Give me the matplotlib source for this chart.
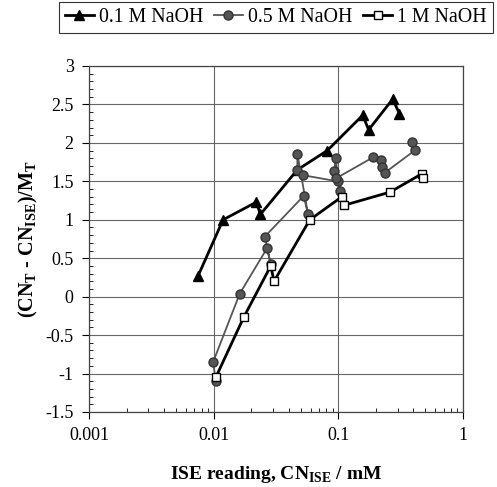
import numpy as np
import matplotlib
matplotlib.use('Agg')
import matplotlib.pyplot as plt
from matplotlib.ticker import MultipleLocator, LogLocator, NullFormatter

plt.rcParams['font.family'] = ['Liberation Serif', 'DejaVu Serif']
plt.rcParams['mathtext.fontset'] = 'custom'
plt.rcParams['mathtext.rm'] = 'Liberation Serif'
plt.rcParams['mathtext.bf'] = 'Liberation Serif:bold'

# 0.1 M NaOH
x_01 = [0.0075, 0.0119, 0.022, 0.0237, 0.0469, 0.0815, 0.157, 0.175, 0.273, 0.309]
y_01 = [0.27, 1.0, 1.23, 1.07, 1.65, 1.9, 2.36, 2.17, 2.57, 2.38]

# 0.5 M NaOH
x_05 = [0.0104, 0.0099, 0.0162, 0.0268, 0.0287, 0.0257, 0.0527, 0.057, 0.0469, 0.0469,
        0.052, 0.0985, 0.1035, 0.095, 0.093, 0.096, 0.189, 0.218, 0.226, 0.235, 0.413, 0.388]
y_05 = [-1.1, -0.85, 0.04, 0.63, 0.42, 0.78, 1.31, 1.08, 1.86, 1.645,
        1.58, 1.50, 1.38, 1.80, 1.64, 1.54, 1.81, 1.775, 1.69, 1.61, 1.905, 2.01]

# 1 M NaOH
x_1 = [0.0104, 0.0174, 0.0287, 0.0305, 0.059, 0.107, 0.112, 0.26, 0.47, 0.48]
y_1 = [-1.05, -0.27, 0.40, 0.20, 1.0, 1.30, 1.19, 1.36, 1.60, 1.54]

labels = ['0.1 M NaOH', '0.5 M NaOH', '1 M NaOH']

fig = plt.figure(figsize=(4.97, 4.87), dpi=100)
ax = fig.add_axes([89 / 497, 75 / 487, 374 / 497, 346 / 487])

ax.plot(x_01, y_01, color='black', lw=2.0, marker='^', ms=7,
        mfc='black', mec='black', label=labels[0], zorder=3)
ax.plot(x_05, y_05, color='#555555', lw=1.3, marker='o', ms=6.5,
        mfc='#555555', mec='#333333', label=labels[1], zorder=4)
ax.plot(x_1, y_1, color='black', lw=2.0, marker='s', ms=6,
        mfc='white', mec='black', mew=1.0, label=labels[2], zorder=5)

ax.set_xscale('log')
ax.set_xlim(0.001, 1)
ax.set_ylim(-1.5, 3)
ax.set_xticks([0.001, 0.01, 0.1, 1])
ax.set_xticklabels(['0.001', '0.01', '0.1', '1'])
ax.xaxis.set_minor_locator(LogLocator(base=10, subs=np.arange(2, 10)))
ax.xaxis.set_minor_formatter(NullFormatter())
ax.yaxis.set_minor_locator(MultipleLocator(0.1))
ax.set_yticks(np.arange(-1.5, 3.01, 0.5))
ax.set_yticklabels([f'{v:g}' for v in np.arange(-1.5, 3.01, 0.5)])

ax.tick_params(which='major', direction='out', length=5, width=0.8, labelsize=13, pad=6)
ax.tick_params(which='minor', direction='in', length=3, width=0.6)
ax.grid(True, which='major', color='#666666', lw=0.8)
ax.set_axisbelow(True)
for s in ax.spines.values():
    s.set_color('#444444')
    s.set_linewidth(0.9)

ax.set_xlabel('ISE reading, CN' + r'$_{\mathbf{ISE}}$' + ' / mM',
              fontsize=14, fontweight='bold', labelpad=14)
ax.set_ylabel('(CN' + r'$_{\mathbf{T}}$' + ' - CN' + r'$_{\mathbf{ISE}}$' + ')/M' + r'$_{\mathbf{T}}$',
              fontsize=14.5, fontweight='bold', labelpad=4)

leg = fig.legend(loc='upper right', bbox_to_anchor=(493 / 497, 1 - 2 / 487), ncol=3,
                 fontsize=14.3, handlelength=1.5, handletextpad=0.25,
                 columnspacing=0.5, borderpad=0.3, borderaxespad=0, fancybox=False,
                 framealpha=1, edgecolor='#333333')
leg.get_frame().set_linewidth(0.8)

fig.savefig('out.png', dpi=100)
